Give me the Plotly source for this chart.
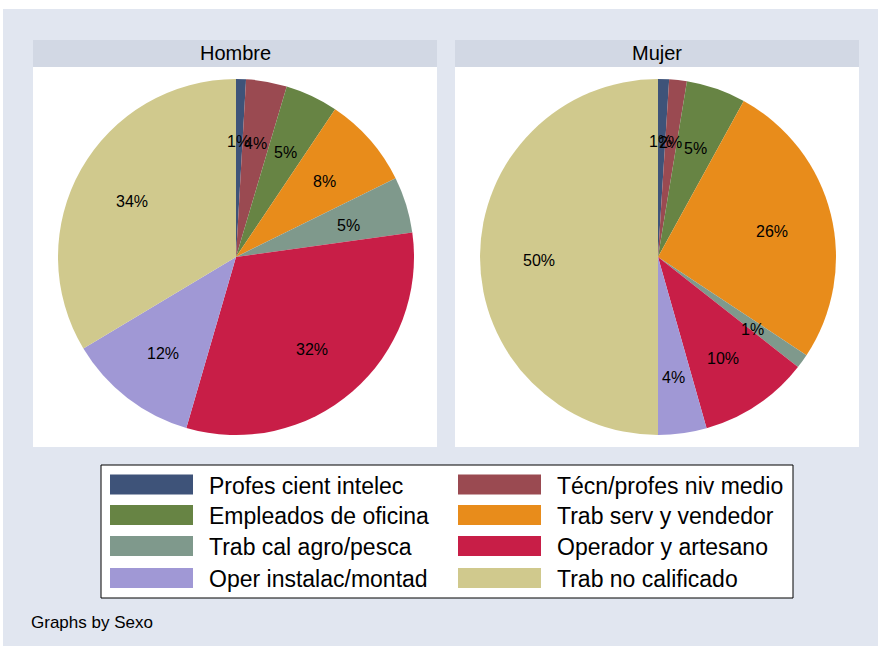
import math
import plotly.graph_objects as go

W, H = 878, 646

categories = ["Profes cient intelec", "Técn/profes niv medio", "Empleados de oficina",
              "Trab serv y vendedor", "Trab cal agro/pesca", "Operador y artesano",
              "Oper instalac/montad", "Trab no calificado"]
colors = ["#3E5379", "#9A4A51", "#678444", "#E88C1B", "#7F998C", "#C81E47", "#A098D5", "#D0C98D"]
panels = ["Hombre", "Mujer"]
hombre_pct = [0.9, 3.7, 4.8, 8.3, 5.1, 31.7, 11.9, 33.6]
mujer_pct = [1.0, 1.6, 5.4, 26.3, 1.3, 10.0, 4.4, 50.0]
series = [hombre_pct, mujer_pct]
footer = "Graphs by Sexo"

FONT = "Liberation Sans, Arial, sans-serif"


def px(x):
    return x / W


def py(y):
    return 1 - y / H


shapes = []
annotations = []


def rect(x0, y0, x1, y1, fill, line=None):
    shapes.append(dict(type="rect", xref="paper", yref="paper", layer="below",
                       x0=px(x0), x1=px(x1), y0=py(y1), y1=py(y0),
                       fillcolor=fill,
                       line=dict(width=1 if line else 0, color=line or fill)))


# background
rect(3, 9, W, H, "#E1E6F0")

panel_x = [(33, 437), (455, 859)]
pie_centers = [(236, 257), (658, 257)]
R = 178

fig = go.Figure()
for k, (name, vals) in enumerate(zip(panels, series)):
    x0, x1 = panel_x[k]
    rect(x0, 67, x1, 447, "white")
    rect(x0, 40, x1, 67, "#D2D8E4")
    annotations.append(dict(text=name, xref="paper", yref="paper",
                            x=px((x0 + x1) / 2), y=py(53), showarrow=False,
                            xanchor="center", yanchor="middle",
                            font=dict(family=FONT, size=20, color="black")))
    cx, cy = pie_centers[k]
    fig.add_trace(go.Pie(
        labels=categories, values=vals, sort=False, direction="clockwise",
        rotation=0, textinfo="none", showlegend=False,
        marker=dict(colors=colors, line=dict(width=0)),
        domain=dict(x=[px(cx - R), px(cx + R)], y=[py(cy + R), py(cy - R)]),
        name=name,
    ))
    total = sum(vals)
    cum = 0.0
    d = 0.665 * R
    for v in vals:
        m = (cum + v / 2) / total
        cum += v
        th = 2 * math.pi * m
        lx = cx + d * math.sin(th) - 1
        ly = cy - d * math.cos(th) + 3
        annotations.append(dict(text=f"{round(100 * v / total)}%", xref="paper", yref="paper",
                                x=px(lx), y=py(ly), showarrow=False,
                                xanchor="center", yanchor="middle",
                                font=dict(family=FONT, size=16, color="black")))

# legend
rect(101, 465, 793, 598, "white", line="black")
col_sw = [110, 458]
row_y = [484.5, 515, 546, 578]
for i, (cat, col) in enumerate(zip(categories, colors)):
    c = i % 2
    r = i // 2
    sx = col_sw[c]
    yc = row_y[r]
    rect(sx, yc - 10, sx + 83, yc + 10, col)
    annotations.append(dict(text=cat, xref="paper", yref="paper",
                            x=px(sx + 97), y=py(yc + 1), showarrow=False,
                            xanchor="left", yanchor="middle",
                            font=dict(family=FONT, size=23, color="black")))

annotations.append(dict(text=footer, xref="paper", yref="paper",
                        x=px(29), y=py(622), showarrow=False,
                        xanchor="left", yanchor="middle",
                        font=dict(family=FONT, size=17, color="black")))

fig.update_layout(width=W, height=H, margin=dict(l=0, r=0, t=0, b=0),
                  paper_bgcolor="white", plot_bgcolor="white",
                  shapes=shapes, annotations=annotations, showlegend=False)
fig.write_html("out.html", config={"displayModeBar": False},
               post_script="document.body.style.margin='0px';document.body.style.overflow='hidden';")
